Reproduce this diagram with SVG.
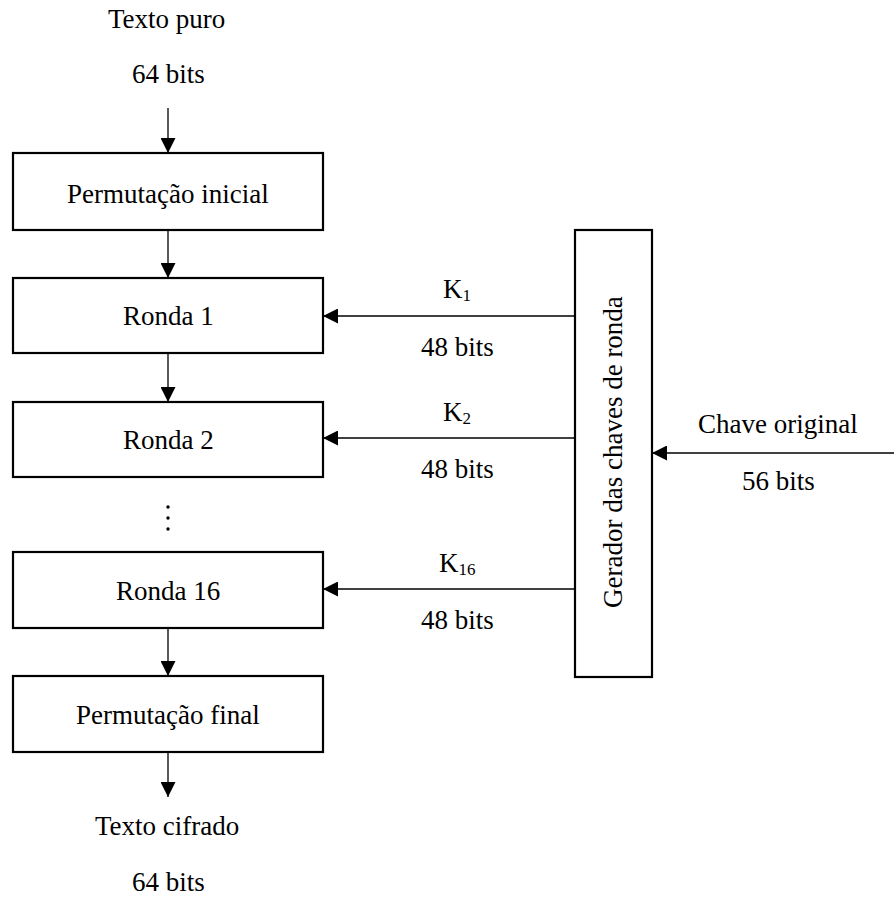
<svg xmlns="http://www.w3.org/2000/svg" width="894" height="898" viewBox="0 0 894 898">
  <defs>
    <marker id="head" viewBox="0 0 15 15" refX="15" refY="7.5" markerWidth="15" markerHeight="15" markerUnits="userSpaceOnUse" orient="auto">
      <path d="M0,0 L15,7.5 L0,15 Z" fill="#000"/>
    </marker>
  </defs>

  <rect width="894" height="898" fill="#fff"/>

  <!-- connectors -->
  <g id="connectors" stroke="#000" stroke-width="1.3" fill="none" marker-end="url(#head)">
    <line x1="168" y1="108" x2="168" y2="153"/>
    <line x1="168" y1="230" x2="168" y2="278"/>
    <line x1="168" y1="353" x2="168" y2="402"/>
    <line x1="168" y1="628" x2="168" y2="676"/>
    <line x1="168" y1="752" x2="168" y2="797"/>
    <line x1="575" y1="316" x2="323" y2="316"/>
    <line x1="575" y1="438" x2="323" y2="438"/>
    <line x1="575" y1="589" x2="323" y2="589"/>
    <line x1="894" y1="453" x2="652" y2="453"/>
  </g>

  <!-- text is placed from its left edge (Times metrics, 27px) -->
  <g font-family="'Liberation Serif', serif" font-size="27">
    <!-- input / output labels -->
    <g id="input">
      <text x="108" y="28">Texto puro</text>
      <text x="132" y="83">64 bits</text>
    </g>
    <g id="output">
      <text x="95" y="835">Texto cifrado</text>
      <text x="132" y="891">64 bits</text>
    </g>

    <!-- connector labels -->
    <g id="labels">
      <text x="443" y="298">K<tspan font-size="17" dy="3">1</tspan></text>
      <text x="421" y="356">48 bits</text>
      <text x="443" y="421">K<tspan font-size="17" dy="3">2</tspan></text>
      <text x="421" y="478">48 bits</text>
      <text x="439" y="572">K<tspan font-size="17" dy="3">16</tspan></text>
      <text x="421" y="629">48 bits</text>
      <text x="698" y="433">Chave original</text>
      <text x="742" y="490">56 bits</text>
    </g>

    <!-- processing stages -->
    <g id="perm-inicial">
      <rect x="13" y="153" width="310" height="77" fill="#fff" stroke="#000" stroke-width="2.2"/>
      <text x="67" y="203">Permutação inicial</text>
    </g>
    <g id="ronda-1">
      <rect x="13" y="278" width="310" height="75" fill="#fff" stroke="#000" stroke-width="2.2"/>
      <text x="123" y="325">Ronda 1</text>
    </g>
    <g id="ronda-2">
      <rect x="13" y="402" width="310" height="75" fill="#fff" stroke="#000" stroke-width="2.2"/>
      <text x="123" y="449">Ronda 2</text>
    </g>
    <g id="ellipsis">
      <circle cx="168" cy="507" r="1.7"/>
      <circle cx="168" cy="518" r="1.7"/>
      <circle cx="168" cy="529" r="1.7"/>
    </g>
    <g id="ronda-16">
      <rect x="13" y="552" width="310" height="76" fill="#fff" stroke="#000" stroke-width="2.2"/>
      <text x="116" y="600">Ronda 16</text>
    </g>
    <g id="perm-final">
      <rect x="13" y="676" width="310" height="76" fill="#fff" stroke="#000" stroke-width="2.2"/>
      <text x="76" y="724">Permutação final</text>
    </g>

    <!-- key schedule -->
    <g id="gerador">
      <rect x="575" y="230" width="77" height="447" fill="#fff" stroke="#000" stroke-width="2.2"/>
      <text transform="translate(622,608) rotate(-90)">Gerador das chaves de ronda</text>
    </g>
  </g>
</svg>
